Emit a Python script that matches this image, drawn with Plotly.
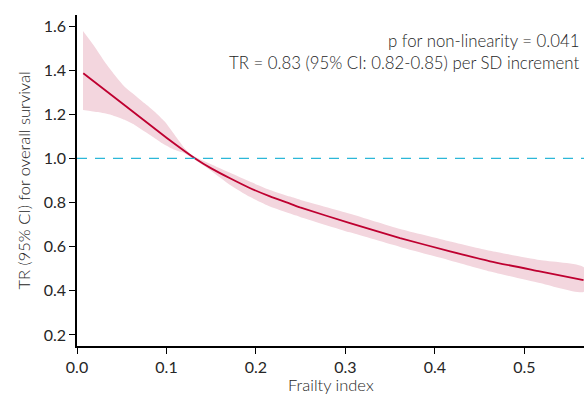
import plotly.graph_objects as go

# Estimated time ratio (TR) curve
line_x = [0.007, 0.05, 0.1, 0.132, 0.15, 0.171, 0.193, 0.2156, 0.238, 0.2492,
          0.305, 0.361, 0.4168, 0.4615, 0.517, 0.566]
line_y = [1.386, 1.251, 1.094, 1.0, 0.955, 0.91, 0.866, 0.828, 0.795, 0.778,
          0.707, 0.639, 0.579, 0.534, 0.488, 0.448]

# Upper 95% CI bound
upper_x = [0.0067, 0.0197, 0.0309, 0.0421, 0.0532, 0.0644, 0.0756, 0.0868, 0.098,
           0.109, 0.120, 0.128, 0.1486, 0.171, 0.193, 0.2156, 0.238, 0.2492, 0.305,
           0.361, 0.4168, 0.4615, 0.517, 0.566]
upper_y = [1.577, 1.506, 1.438, 1.378, 1.325, 1.288, 1.250, 1.212, 1.167,
           1.107, 1.047, 1.016, 0.976, 0.935, 0.895, 0.857, 0.827, 0.813, 0.749,
           0.680, 0.624, 0.582, 0.540, 0.508]

# Lower 95% CI bound
lower_x = [0.0067, 0.0235, 0.0383, 0.0532, 0.0644, 0.0756, 0.0868, 0.098, 0.109,
           0.120, 0.1296, 0.1486, 0.171, 0.193, 0.2156, 0.238, 0.2492, 0.305, 0.361,
           0.4168, 0.4615, 0.517, 0.566]
lower_y = [1.220, 1.210, 1.197, 1.175, 1.152, 1.122, 1.092, 1.062, 1.039,
           1.024, 1.0, 0.948, 0.88, 0.826, 0.782, 0.75, 0.735, 0.665, 0.599,
           0.538, 0.488, 0.436, 0.395]

x_ticks = [0.0, 0.1, 0.2, 0.3, 0.4, 0.5]
y_ticks = [0.2, 0.4, 0.6, 0.8, 1.0, 1.2, 1.4, 1.6]
ref_value = 1.0

FONT = "Lato"
TXT = "#262626"

fig = go.Figure()
fig.add_trace(go.Scatter(
    x=upper_x + lower_x[::-1], y=upper_y + lower_y[::-1],
    fill="toself", fillcolor="#F3D6DE", line=dict(width=0, shape="spline", smoothing=0.5),
    mode="lines", hoverinfo="skip", showlegend=False))
fig.add_trace(go.Scatter(
    x=line_x, y=line_y, mode="lines",
    line=dict(color="#BE0030", width=1.8, shape="spline", smoothing=0.5),
    showlegend=False))

fig.add_hline(y=ref_value, line=dict(color="#2BB7D8", width=1.2, dash="10px,8px"))

fig.add_annotation(xref="paper", yref="paper", x=0.995, y=0.923, xanchor="right", yanchor="middle",
                   text="p for non-linearity = 0.041", showarrow=False,
                   font=dict(family=FONT, size=16.8, color=TXT, weight=300))
fig.add_annotation(xref="paper", yref="paper", x=0.995, y=0.857, xanchor="right", yanchor="middle",
                   text="TR = 0.83 (95% CI: 0.82-0.85) per SD increment", showarrow=False,
                   font=dict(family=FONT, size=16.8, color=TXT, weight=300))
# x-axis title
fig.add_annotation(xref="paper", yref="paper", x=0.5, y=-0.118, xanchor="center", yanchor="middle",
                   text="Frailty index", showarrow=False,
                   font=dict(family=FONT, size=16.5, color=TXT, weight=300))

fig.update_layout(
    width=584, height=396,
    margin=dict(l=77, r=0, t=15, b=50),
    paper_bgcolor="white", plot_bgcolor="white",
    font=dict(family=FONT, size=16, color=TXT),
    xaxis=dict(range=[0, 0.5665], tickvals=x_ticks, ticktext=[f"{v:.1f}" for v in x_ticks],
               showgrid=False, zeroline=False, showline=True, linecolor="black", linewidth=1.5,
               ticks="outside", ticklen=6, tickcolor="black", automargin=False),
    yaxis=dict(range=[0.15, 1.65], tickvals=y_ticks, ticktext=[f"{v:.1f}" for v in y_ticks],
               showgrid=False, zeroline=False, showline=True, linecolor="black", linewidth=1.5,
               ticks="outside", ticklen=6, tickcolor="black", automargin=False,
               title=dict(text="TR (95% CI) for overall survival", font=dict(size=16.5, weight=300),
                          standoff=9)),
)
fig.write_html("out.html", config={"displayModeBar": False},
               post_script="document.body.style.margin='0px';")
